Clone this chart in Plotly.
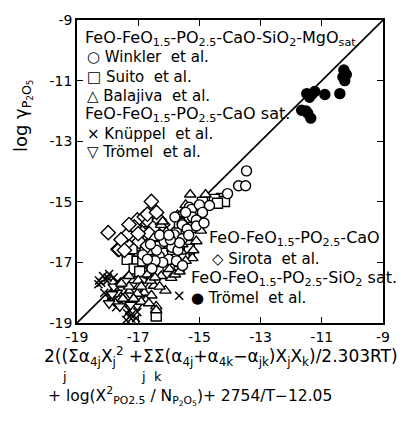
import plotly.graph_objects as go

# ---- data ----
winkler_x = [-13.46, -13.72, -13.49, -14.08, -15.33, -15.56, -14.67, -15.26, -15.23, -15.56, -15.82,
             -16.08, -15.56, -16.15, -16.31, -15.90, -16.40, -16.00, -15.70, -16.60, -15.40, -15.00,
             -14.90, -16.20, -15.10, -15.65, -16.45, -16.85, -15.95, -15.80, -15.45, -15.10, -16.30,
             -16.70, -15.75, -16.00, -15.35, -14.85, -16.55, -15.55]
winkler_y = [-13.98, -14.47, -14.47, -14.73, -15.18, -15.73, -15.12, -15.25, -15.50, -15.76, -16.09,
             -16.31, -16.22, -16.31, -16.80, -16.50, -16.60, -16.90, -16.60, -16.40, -15.90, -15.10,
             -15.35, -17.00, -15.60, -16.35, -16.95, -16.75, -16.25, -15.50, -15.35, -15.80, -16.10,
             -16.90, -16.95, -16.10, -16.10, -15.70, -17.20, -17.10]

suito_x = [-14.28, -14.51, -14.18, -14.41, -14.93, -15.00, -15.43, -15.33, -14.90, -16.87, -16.54,
           -16.57, -16.97, -17.30, -17.36, -17.03, -16.80, -17.13, -16.90, -16.70, -16.40, -16.31,
           -15.98, -15.82, -16.15, -16.48, -15.66, -16.41, -17.10, -16.65, -15.20, -16.20, -16.85,
           -16.60, -15.65, -15.80, -16.95, -17.20, -16.35, -15.50, -15.10, -16.75]
suito_y = [-14.89, -14.92, -14.99, -15.05, -15.25, -15.67, -15.99, -16.57, -15.02, -16.31, -16.15,
           -16.64, -16.64, -16.80, -16.90, -16.96, -17.19, -17.22, -17.51, -15.99, -15.92, -16.48,
           -16.64, -16.90, -17.12, -16.90, -17.12, -18.77, -16.45, -17.35, -15.85, -16.70, -16.95,
           -16.95, -15.70, -16.30, -17.30, -16.55, -17.30, -16.85, -15.45, -16.10]

balajiva_x = [-15.30, -14.80, -15.45, -16.25, -15.72, -15.59, -16.08, -15.59, -15.23, -15.59, -15.98,
              -16.25, -15.92, -16.48, -16.80, -16.57, -17.03, -16.41, -16.41, -16.11, -15.89, -15.56,
              -16.20, -17.30, -17.00, -16.70, -16.90, -17.50, -16.60, -16.30, -15.40, -15.05, -16.75,
              -15.20, -15.45, -15.80, -16.45, -16.90, -17.15, -16.65, -17.30, -15.65, -15.10, -14.95,
              -16.50, -17.55]
balajiva_y = [-14.76, -14.76, -15.10, -15.76, -15.44, -15.41, -15.99, -16.64, -16.86, -17.06, -17.22,
              -17.45, -17.51, -17.77, -18.00, -18.09, -18.03, -18.45, -18.58, -17.93, -16.54, -16.40,
              -15.65, -17.80, -17.60, -17.40, -17.80, -18.20, -17.60, -17.80, -16.20, -15.55, -18.25,
              -16.60, -16.95, -17.40, -17.50, -18.30, -18.20, -18.35, -17.45, -17.30, -16.30, -15.95,
              -16.20, -17.70]

knuppel_x = [-18.28, -18.00, -17.89, -17.23, -18.30, -18.11, -17.89, -17.30, -17.03, -17.36, -17.95,
             -15.66, -18.02, -18.21, -17.85, -17.95, -17.72, -17.23, -17.07, -17.39, -17.60, -17.50,
             -17.70, -18.15, -17.80, -17.55]
knuppel_y = [-17.60, -17.50, -18.16, -18.74, -17.72, -18.00, -18.32, -18.58, -18.64, -18.68, -17.38,
             -18.10, -17.61, -17.67, -17.87, -18.19, -18.48, -18.86, -18.84, -18.90, -17.90, -18.05,
             -17.65, -17.45, -17.50, -18.30]

tromel_cao_x = [-17.62, -17.39, -17.23, -17.03, -17.95, -17.50, -17.20, -16.90, -17.70, -17.40, -16.80,
                -17.80, -17.60, -17.25, -17.05, -17.85]
tromel_cao_y = [-18.19, -18.32, -18.09, -18.42, -18.35, -17.90, -17.75, -18.20, -18.00, -17.60, -17.70,
                -17.80, -18.45, -18.40, -17.95, -18.05]

sirota_x = [-16.57, -17.98, -17.66, -17.03, -16.80, -16.64, -16.90, -17.20, -17.39, -17.62, -16.48,
            -16.70, -17.13, -17.36, -17.56, -16.64, -16.97, -16.31, -17.00, -16.40, -17.30, -16.20,
            -17.45, -16.70]
sirota_y = [-14.99, -16.02, -16.57, -15.60, -15.50, -15.67, -15.99, -16.15, -16.38, -16.57, -15.83,
            -15.41, -15.83, -16.09, -16.25, -16.05, -16.31, -15.60, -16.05, -15.35, -15.75, -15.75,
            -16.60, -16.45]

tromel_sio2_x = [-10.28, -10.31, -10.20, -10.25, -11.49, -11.33, -11.23, -10.90, -10.41, -11.66,
                 -11.52, -11.46, -11.36, -11.40]
tromel_sio2_y = [-10.65, -10.88, -10.80, -11.00, -11.43, -11.46, -11.36, -11.46, -11.43, -11.98,
                 -12.00, -12.08, -12.24, -11.55]

ticks = [-19, -17, -15, -13, -11, -9]
tick_labels = ["-19", "-17", "-15", "-13", "-11", "-9"]
axis_range = [-19, -9]

# ---- layout helpers (pixel -> paper) ----
W, H = 416, 421
L, R, T, B = 77, 383, 14, 323


def px(x):
    return (x - L) / (R - L)


def py(y):
    return (B - y) / (B - T)


FONT = "DejaVu Sans"
fig = go.Figure()

fig.add_trace(go.Scatter(x=axis_range, y=axis_range, mode="lines",
                         line=dict(color="black", width=1.6), hoverinfo="skip"))


def add_markers(xs, ys, symbol, size, filled=False, lw=1.4):
    fig.add_trace(go.Scatter(
        x=xs, y=ys, mode="markers",
        marker=dict(symbol=symbol, size=size,
                    color="black" if filled else "white",
                    line=dict(color="black", width=lw))))


add_markers(knuppel_x, knuppel_y, "x-thin", 8, lw=1.5)
add_markers(tromel_cao_x, tromel_cao_y, "triangle-down", 10)
add_markers(suito_x, suito_y, "square", 10)
add_markers(sirota_x, sirota_y, "diamond", 11)
add_markers(balajiva_x, balajiva_y, "triangle-up", 10)
add_markers(winkler_x, winkler_y, "circle", 10)
add_markers(tromel_sio2_x, tromel_sio2_y, "circle", 10, filled=True)

ann = []


def text(x, y, s, size=15, anchor="left", angle=0):
    ann.append(dict(x=px(x), y=py(y), xref="paper", yref="paper", text=s, showarrow=False,
                    xanchor=anchor, yanchor="middle", textangle=angle, borderpad=0,
                    font=dict(family=FONT, size=size, color="black")))


text(84, 33, "FeO-FeO<sub>1.5</sub>-PO<sub>2.5</sub>-CaO-SiO<sub>2</sub>-MgO<sub>sat.</sub>", size=16)
text(86, 52, "○ Winkler  et al.")
text(86, 72, "□ Suito  et al.")
text(86, 91, "△ Balajiva  et al.")
text(84, 110, "FeO-FeO<sub>1.5</sub>-PO<sub>2.5</sub>-CaO sat.", size=16)
text(86, 130, "× Knüppel  et al.")
text(86, 149, "▽ Trömel  et al.")
text(208, 237, "FeO-FeO<sub>1.5</sub>-PO<sub>2.5</sub>-CaO", size=16)
text(211, 258, "◇ Sirota  et al.")
text(190, 278, "FeO-FeO<sub>1.5</sub>-PO<sub>2.5</sub>-SiO<sub>2</sub> sat.", size=16)
text(190, 297, "● Trömel  et al.")

# axis titles
text(22, 112, "log γ<sub>P<sub>2</sub>O<sub>5</sub></sub>", size=18, anchor="center", angle=-90)
text(43, 357, "2((Σα<sub>4j</sub>X<sub>j</sub><sup>2</sup> +ΣΣ(α<sub>4j</sub>+α<sub>4k</sub>−α<sub>jk</sub>)X<sub>j</sub>X<sub>k</sub>)/2.303RT)", size=17)
text(64, 378, "j", size=13, anchor="center")
text(140, 378, "j  k", size=13, anchor="left")
text(47, 397, "+ log(X<sup>2</sup><sub>PO2.5</sub> / N<sub>P<sub>2</sub>O<sub>5</sub></sub>)+ 2754/T−12.05", size=15.5)

axis_common = dict(range=axis_range, tickvals=ticks, ticktext=tick_labels, ticks="inside",
                   ticklen=6, tickwidth=1.3, tickcolor="black", showgrid=False, zeroline=False,
                   showline=True, linecolor="black", linewidth=1.6, mirror="ticks",
                   tickfont=dict(family=FONT, size=14, color="black"))

fig.update_layout(
    width=W, height=H, margin=dict(l=L, r=W - R, t=T, b=H - B),
    paper_bgcolor="white", plot_bgcolor="white", showlegend=False,
    xaxis=axis_common, yaxis=axis_common, annotations=ann)

fig.write_html("out.html", config={"displayModeBar": False},
               post_script="document.body.style.margin='0';")
